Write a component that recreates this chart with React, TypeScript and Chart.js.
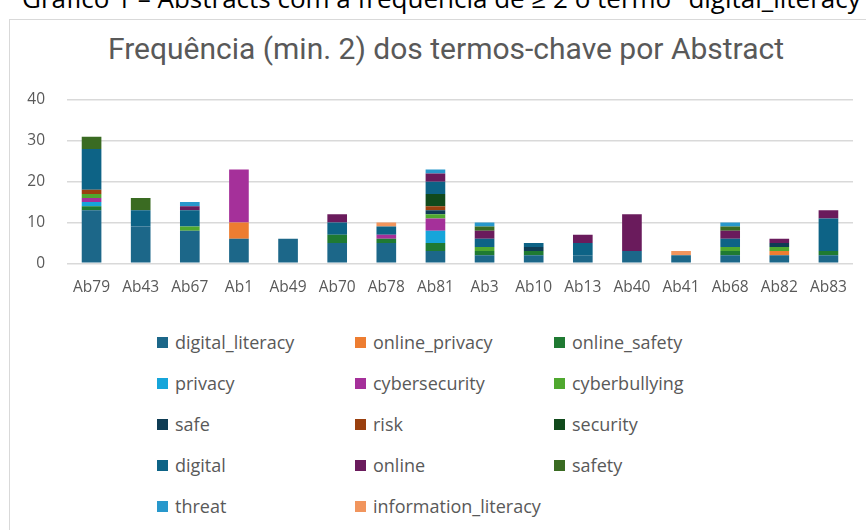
import React, { useEffect, useRef } from "react";
import { Chart, registerables } from "chart.js";
Chart.register(...registerables);

const caption = "Gráfico 1 – Abstracts com a frequência de ≥ 2 o termo \"digital_literacy\"";
const chartTitle = "Frequência (min. 2) dos termos-chave por Abstract";

const categories = ["Ab79", "Ab43", "Ab67", "Ab1", "Ab49", "Ab70", "Ab78", "Ab81", "Ab3", "Ab10", "Ab13", "Ab40", "Ab41", "Ab68", "Ab82", "Ab83"];

const yTicks = [0, 10, 20, 30, 40];

const digital_literacy = [13, 9, 8, 6, 6, 5, 5, 3, 2, 2, 2, 3, 2, 2, 2, 2];
const online_privacy = [0, 0, 0, 4, 0, 0, 0, 0, 0, 0, 0, 0, 0, 0, 1, 0];
const online_safety = [1, 0, 0, 0, 0, 2, 1, 2, 1, 1, 0, 0, 0, 1, 0, 1];
const privacy = [1, 0, 0, 0, 0, 0, 0, 3, 0, 0, 0, 0, 0, 0, 0, 0];
const cybersecurity = [1, 0, 0, 13, 0, 0, 1, 3, 0, 0, 0, 0, 0, 0, 0, 0];
const cyberbullying = [1, 0, 1, 0, 0, 0, 0, 1, 1, 0, 0, 0, 0, 1, 1, 0];
const safe = [0, 0, 0, 0, 0, 0, 0, 1, 0, 1, 0, 0, 0, 0, 1, 0];
const risk = [1, 0, 0, 0, 0, 0, 0, 1, 0, 0, 0, 0, 0, 0, 0, 0];
const security = [0, 0, 0, 0, 0, 0, 0, 3, 0, 0, 0, 0, 0, 0, 0, 0];
const digital = [10, 4, 4, 0, 0, 3, 2, 3, 2, 1, 3, 0, 0, 2, 0, 8];
const online = [0, 0, 1, 0, 0, 2, 0, 2, 2, 0, 2, 9, 0, 2, 1, 2];
const safety = [3, 3, 0, 0, 0, 0, 0, 0, 1, 0, 0, 0, 0, 1, 0, 0];
const threat = [0, 0, 1, 0, 0, 0, 0, 1, 1, 0, 0, 0, 0, 1, 0, 0];
const information_literacy = [0, 0, 0, 0, 0, 0, 1, 0, 0, 0, 0, 0, 1, 0, 0, 0];

const seriesNames = [
  "digital_literacy", "online_privacy", "online_safety",
  "privacy", "cybersecurity", "cyberbullying",
  "safe", "risk", "security",
  "digital", "online", "safety",
  "threat", "information_literacy",
];
const seriesValues = [
  digital_literacy, online_privacy, online_safety,
  privacy, cybersecurity, cyberbullying,
  safe, risk, security,
  digital, online, safety,
  threat, information_literacy,
];
const seriesColors = [
  "#1C6789", "#ED7D31", "#1F7A32",
  "#16A5DA", "#A5309A", "#4FA82F",
  "#0E3C54", "#9A400F", "#114A1C",
  "#0D6386", "#6A1B5C", "#3A6B22",
  "#2898CC", "#F1955D",
];

const GREY = "#595959";
const FONT = "'Open Sans', 'Noto Sans', sans-serif";

export default function App() {
  const ref = useRef<HTMLCanvasElement | null>(null);

  useEffect(() => {
    if (!ref.current) return;
    const chart = new Chart(ref.current, {
      type: "bar",
      data: {
        labels: categories,
        datasets: seriesNames.map((name, i) => ({
          label: name,
          data: seriesValues[i],
          backgroundColor: seriesColors[i],
          borderWidth: 0,
          barPercentage: 0.4,
          categoryPercentage: 1,
        })),
      },
      options: {
        animation: false,
        responsive: false,
        maintainAspectRatio: false,
        layout: { padding: { left: 0, right: 13, top: 100, bottom: 6.7 } },
        plugins: {
          legend: { display: false },
          tooltip: { enabled: false },
          title: { display: false },
        },
        scales: {
          x: {
            stacked: true,
            grid: { display: false },
            border: { display: false },
            ticks: { color: GREY, font: { family: FONT, size: 15.5 }, padding: 7, maxRotation: 0, autoSkip: false },
            afterFit: (s: any) => { s.height = 40; },
          },
          y: {
            stacked: true,
            min: 0,
            max: 40,
            afterBuildTicks: (s: any) => { s.ticks = yTicks.map((v) => ({ value: v })); },
            ticks: { color: GREY, font: { family: FONT, size: 15.5 }, padding: 22 },
            grid: { color: "#d9d9d9", lineWidth: 1.5, drawTicks: false },
            border: { display: false },
            afterFit: (s: any) => { s.width = 67; },
          },
        },
      } as any,
    });
    return () => chart.destroy();
  }, []);

  return (
    <div style={{ position: "absolute", left: 0, top: 0, width: 866, height: 530, overflow: "hidden", background: "#fff" }}>
      <div style={{ position: "absolute", left: 22, top: -15, fontFamily: FONT, fontSize: 26, lineHeight: "26px", color: "#000", whiteSpace: "nowrap" }}>
        {caption}
      </div>
      <div style={{ position: "absolute", left: 9, top: 19, width: 900, height: 600, border: "1px solid #d9d9d9" }} />
      <div style={{ position: "absolute", left: 0, top: 31, width: 892, textAlign: "center", fontFamily: "Roboto, sans-serif", fontSize: 30, lineHeight: "36px", color: GREY, whiteSpace: "nowrap" }}>
        {chartTitle}
      </div>
      <canvas ref={ref} width={866} height={310} style={{ position: "absolute", left: 0, top: 0, width: 866, height: 310 }} />
      <div style={{ position: "absolute", left: 157, top: 321.5, display: "grid", gridTemplateColumns: "198px 199px 200px", gridAutoRows: "41px" }}>
        {seriesNames.map((name, i) => (
          <div key={name} style={{ display: "flex", alignItems: "center", fontFamily: FONT, fontSize: 18, color: GREY, whiteSpace: "nowrap" }}>
            <span style={{ display: "inline-block", width: 11, height: 11, background: seriesColors[i], marginRight: 7 }} />
            {name}
          </div>
        ))}
      </div>
    </div>
  );
}
